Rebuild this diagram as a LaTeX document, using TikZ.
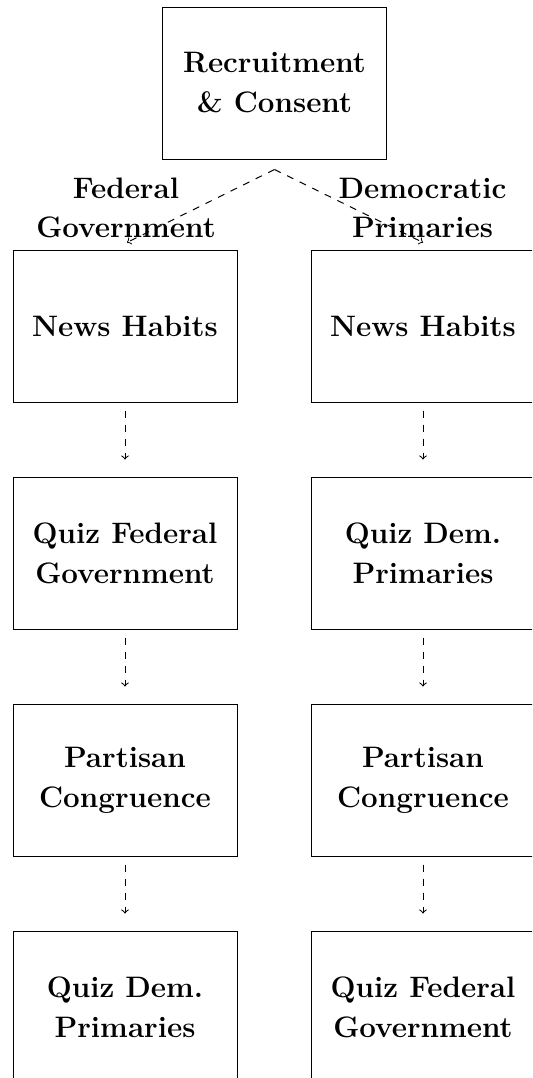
\documentclass[tikz,border=0pt]{standalone}
\usetikzlibrary{positioning}
\tikzset{
  box/.style={draw, line width=0.5pt, minimum width=112pt, minimum height=76pt, inner sep=0pt, align=center, font=\fontsize{14.8}{20}\selectfont\bfseries},
  lbl/.style={align=center, inner sep=0pt, font=\fontsize{14.8}{19.5}\selectfont\bfseries},
  arr/.style={->, line width=0.5pt, dash pattern=on 3.5pt off 3.5pt}
}
\begin{document}
\begin{tikzpicture}[x=0.5pt,y=-0.5pt]
\useasboundingbox (0,0) rectangle (532,1078);
\clip (0,0) rectangle (532,1078);
\node[box] (top) at (274.5,83) {Recruitment\\\& Consent};
\node[lbl] (lf) at (126,208) {Federal\\Government};
\node[lbl] (lr) at (422.5,208) {Democratic\\Primaries};
\node[box] (a1) at (125,326) {News Habits};
\node[box] (a2) at (125,553) {Quiz Federal\\Government};
\node[box] (a3) at (125,780) {Partisan\\Congruence};
\node[box] (a4) at (125,1007) {Quiz Dem.\\Primaries};
\node[box] (b1) at (423,326) {News Habits};
\node[box] (b2) at (423,553) {Quiz Dem.\\Primaries};
\node[box] (b3) at (423,780) {Partisan\\Congruence};
\node[box] (b4) at (423,1007) {Quiz Federal\\Government};
\coordinate (split) at ([yshift=-5pt]top.south);
\coordinate (ea) at ([xshift=1pt,yshift=3.5pt]a1.north);
\coordinate (eb) at ([yshift=3.5pt]b1.north);
\draw[arr] (split) -- (ea);
\draw[arr] (split) -- (eb);
\foreach \p/\q in {a1/a2,a2/a3,a3/a4,b1/b2,b2/b3,b3/b4}{
  \draw[arr, shorten <=4pt, shorten >=8.5pt] (\p.south) -- (\q.north);
}
\end{tikzpicture}
\end{document}
